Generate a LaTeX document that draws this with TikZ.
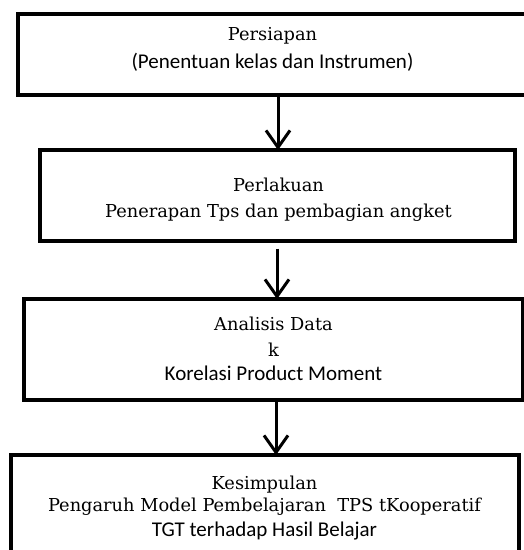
\documentclass[tikz,border=0pt]{standalone}
\usepackage{fontspec}
\usetikzlibrary{arrows.meta}
\newfontfamily\serfont{DejaVu Serif}
\newfontfamily\sanfont{Carlito}
\begin{document}
\begin{tikzpicture}[x=1pt,y=-1pt,
  boxst/.style={draw=black,line width=3.2pt,rectangle,inner sep=0pt,fill=none},
  arr/.style={line width=3pt,-{Straight Barb[length=17pt,width=24pt,line width=3pt]}},
  sertx/.style={inner sep=0pt,anchor=base,font=\serfont\fontsize{17.8}{20}\selectfont},
  santx/.style={inner sep=0pt,anchor=base,font=\sanfont\fontsize{21}{24}\selectfont}]
\useasboundingbox (0,0) rectangle (524,550);
\clip (0,0) rectangle (524,550);
\fill[white] (0,0) rectangle (524,550);
% boxes
\node[boxst,minimum width=509pt,minimum height=81pt] (b1) at (272.5,54.5) {};
\node[boxst,minimum width=475pt,minimum height=91pt] (b2) at (277.5,195.5) {};
\node[boxst,minimum width=499pt,minimum height=101pt] (b3) at (273.5,349.5) {};
\node[boxst,minimum width=508pt,minimum height=115pt] (b4) at (265,512.5) {};
% texts
\node[sertx] (t1a) at (272.5,40.7) {Persiapan};
\node[santx] (t1b) at (272.5,68) {(Penentuan kelas dan Instrumen)};
\node[sertx] (t2a) at (278.5,191.7) {Perlakuan};
\node[sertx] (t2b) at (278.5,217) {Penerapan Tps dan pembagian angket};
\node[sertx] (t3a) at (273.5,330.7) {Analisis Data};
\node[sertx] (t3b) at (273.5,356) {k};
\node[santx] (t3c) at (273.5,380.7) {Korelasi Product Moment};
\node[sertx] (t4a) at (264.5,489) {Kesimpulan};
\node[sertx] (t4b) at (264.5,511.7) {Pengaruh Model Pembelajaran\ \ TPS tKooperatif};
\node[santx] (t4c) at (264.5,536) {TGT terhadap Hasil Belajar};
% connectors
\coordinate (x1) at (278,0);
\coordinate (x2) at (277,0);
\coordinate (x3) at (276,0);
\draw[arr] (b1.south -| x1) -- ([yshift=-1.6pt]b2.north -| x1);
\draw[arr] ([yshift=-6pt]b2.south -| x2) -- ([yshift=-1.6pt]b3.north -| x2);
\draw[arr] (b3.south -| x3) -- ([yshift=-1.6pt]b4.north -| x3);
\end{tikzpicture}
\end{document}
